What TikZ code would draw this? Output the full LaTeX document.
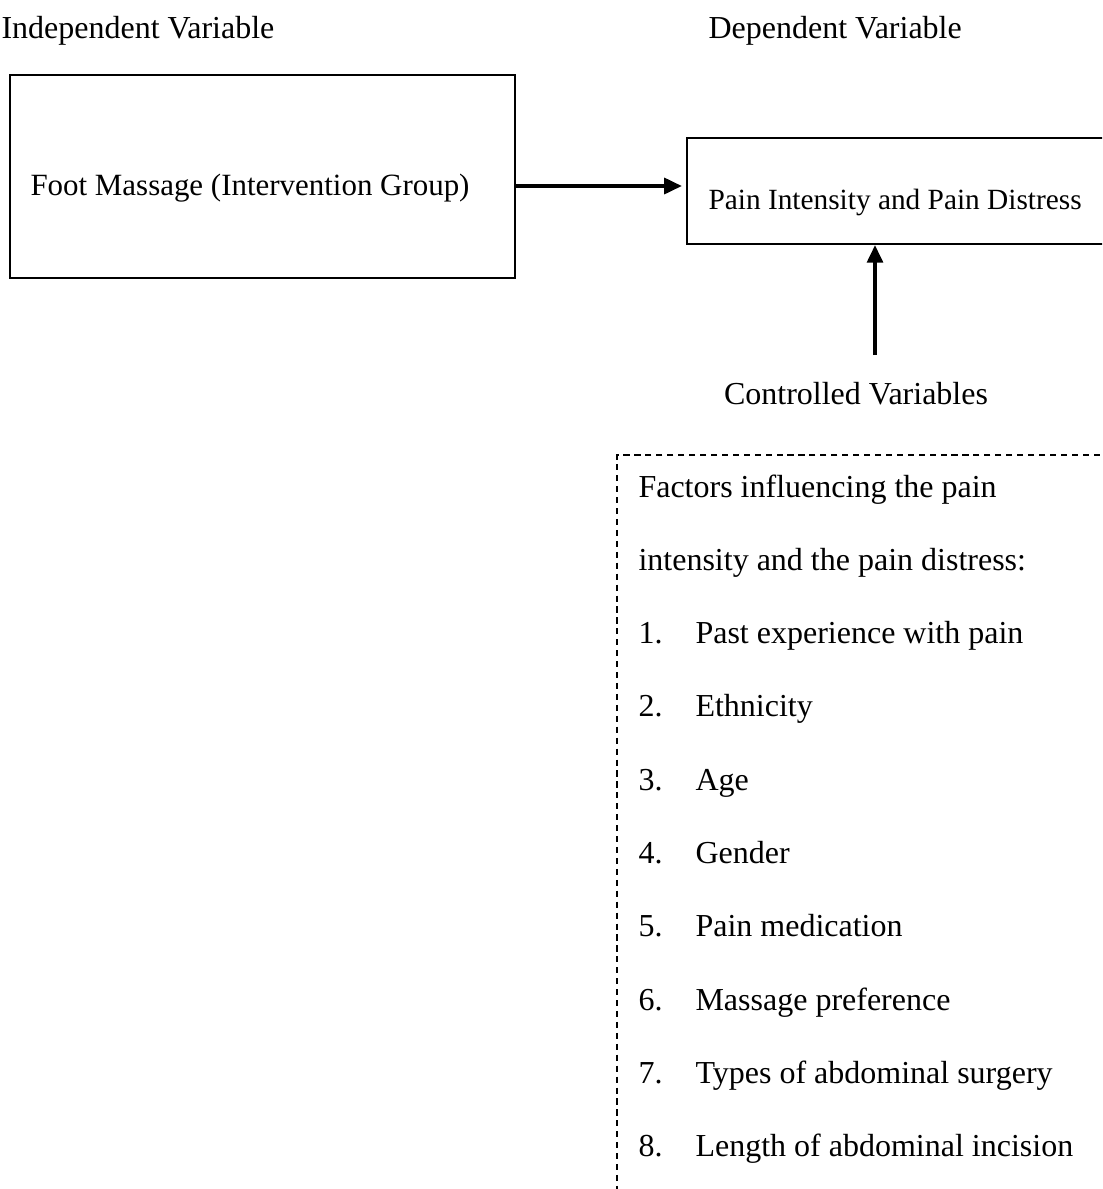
\documentclass[tikz,border=0pt]{standalone}
\usepackage{fontspec}
\setmainfont{Liberation Serif}
\usetikzlibrary{arrows.meta}
\begin{document}
\begin{tikzpicture}[x=0.375pt,y=-0.375pt,
  solidbox/.style={draw, line width=0.85pt, inner sep=0pt},
  dashbox/.style={draw, line width=0.6pt, dash pattern=on 2.3pt off 1.8pt, inner sep=0pt},
  txt/.style={anchor=base west, inner sep=0pt, font=\fontsize{12}{14}\selectfont},
  conn/.style={line width=1.2pt, -{Triangle[length=6.6pt,width=6pt]}}]
\useasboundingbox (0,0) rectangle (1102,1189);
\clip (0,0) rectangle (1102,1189);
% headers
\node[txt] (iv) at (1,38) {Independent Variable};
\node[txt] (dv) at (708,38) {Dependent Variable};
% boxes
\node[solidbox, minimum width=189.4pt, minimum height=76.1pt] (foot) at (262.5,176.5) {};
\node[txt, font=\fontsize{11.6}{14}\selectfont] (foottxt) at (30,195) {Foot Massage (Intervention Group)};
\node[solidbox, minimum width=162.4pt, minimum height=39.75pt] (pain) at (903.5,191) {};
\node[txt, font=\fontsize{11}{13}\selectfont] (paintxt) at (708,209) {Pain Intensity and Pain Distress};
% connectors
\coordinate (ay) at (0,186);
\draw[conn, shorten >=1.5pt] (foot.east |- ay) -- (pain.west |- ay);
\coordinate (cvtail) at (875,355);
\draw[conn] (cvtail) -- (pain.south -| cvtail);
\node[anchor=base, inner sep=0pt, font=\fontsize{12}{14}\selectfont] (cv) at (856,404) {Controlled Variables};
% factors box
\node[dashbox, minimum width=188.6pt, minimum height=279.4pt] (factors) at (868.5,827.5) {};
\node[txt] (f0) at (638,497) {Factors influencing the pain};
\node[txt] (f1) at (638,570.3) {intensity and the pain distress:};
\foreach \n/\t [count=\k from 2] in {1/Past experience with pain, 2/Ethnicity, 3/Age, 4/Gender, 5/Pain medication, 6/Massage preference, 7/Types of abdominal surgery, 8/Length of abdominal incision}{
  \node[txt] (n\n) at (638,497+73.3*\k) {\n.};
  \node[txt] (i\n) at (695,497+73.3*\k) {\t};
}
\end{tikzpicture}
\end{document}
